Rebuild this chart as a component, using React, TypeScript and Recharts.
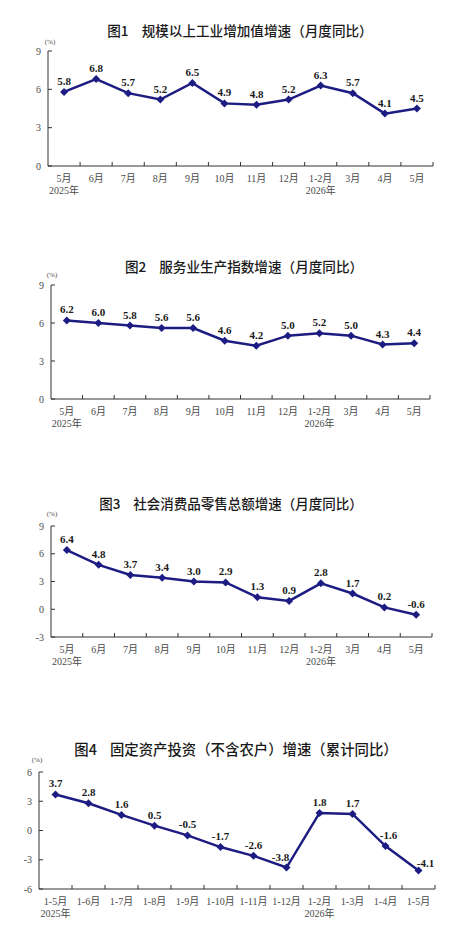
import { LineChart, Line, XAxis, YAxis, LabelList } from "recharts"

// categories
const monthCats = ["5月", "6月", "7月", "8月", "9月", "10月", "11月", "12月", "1-2月", "3月", "4月", "5月"]
const cumCats = ["1-5月", "1-6月", "1-7月", "1-8月", "1-9月", "1-10月", "1-11月", "1-12月", "1-2月", "1-3月", "1-4月", "1-5月"]
const yearTags = ["2025年", "", "", "", "", "", "", "", "2026年", "", "", ""]

// series values (%)
const industryValues = [5.8, 6.8, 5.7, 5.2, 6.5, 4.9, 4.8, 5.2, 6.3, 5.7, 4.1, 4.5]
const servicesValues = [6.2, 6.0, 5.8, 5.6, 5.6, 4.6, 4.2, 5.0, 5.2, 5.0, 4.3, 4.4]
const retailValues = [6.4, 4.8, 3.7, 3.4, 3.0, 2.9, 1.3, 0.9, 2.8, 1.7, 0.2, -0.6]
const investValues = [3.7, 2.8, 1.6, 0.5, -0.5, -1.7, -2.6, -3.8, 1.8, 1.7, -1.6, -4.1]

// y ticks
const ticksPos = [0, 3, 6, 9]
const ticksRetail = [-3, 0, 3, 6, 9]
const ticksInvest = [-6, -3, 0, 3, 6]

const LINE = "#1c1c82"
const AXIS = "#333"
const TICK_TEXT = "#4a4a4a"
const SERIF = '"Liberation Serif", "Noto Sans CJK SC", serif'
const CJK = '"Noto Sans CJK SC", sans-serif'

type PanelProps = {
  no: string
  title: string
  top: number
  height: number
  margin: { top: number; right: number; bottom: number; left: number }
  cats: string[]
  values: number[]
  ticks: number[]
  titleX: number
  titleY: number
  titleSize: number
  unitX: number
  unitY: number
  labelShift?: Record<number, [number, number]>
}

const Diamond = (props: any) => {
  const { cx, cy } = props
  if (cx == null || cy == null) return null
  const r = 4
  return <path d={`M${cx},${cy - r}L${cx + r},${cy}L${cx},${cy + r}L${cx - r},${cy}Z`} fill={LINE} />
}

const Panel = ({ no, title, top, height, margin, cats, values, ticks, titleX, titleY, titleSize, unitX, unitY, labelShift = {} }: PanelProps) => {
  const data = values.map((v, i) => ({ i, v }))
  const n = cats.length

  const xTick = (p: any) => {
    const { x, y, payload, width } = p
    const idx = payload.value
    const half = (width || 385) / n / 2
    return (
      <g>
        <line x1={x + half} y1={y} x2={x + half} y2={y - 4} stroke={AXIS} strokeWidth={1} />
        <text x={x} y={y} dy={15.5} textAnchor="middle" fontSize={10} fontFamily={SERIF} fill={TICK_TEXT}>
          {cats[idx]}
        </text>
        {yearTags[idx] && (
          <text x={x} y={y} dy={28} textAnchor="middle" fontSize={10} fontFamily={SERIF} fill={TICK_TEXT}>
            {yearTags[idx]}
          </text>
        )}
      </g>
    )
  }

  const yTick = (p: any) => {
    const { x, y, payload } = p
    return (
      <g>
        <line x1={x} y1={y} x2={x + 4} y2={y} stroke={AXIS} strokeWidth={1} />
        <text x={x - 7} y={y} dy={3.5} textAnchor="end" fontSize={10} fontFamily={SERIF} fill={TICK_TEXT}>
          {String(payload.value)}
        </text>
      </g>
    )
  }

  const valueLabel = (p: any) => {
    const { x, y, value, index } = p
    const [dx, dy] = labelShift[index] || [0, 0]
    return (
      <text x={x + dx} y={y - 7 + dy} textAnchor="middle" fontSize={11} fontWeight="bold" fontFamily={SERIF} fill="#1a1a1a">
        {value.toFixed(1)}
      </text>
    )
  }

  return (
    <div style={{ position: "absolute", left: 0, top, width: 465, height }}>
      <div
        style={{
          position: "absolute",
          left: titleX,
          top: titleY - titleSize / 2,
          transform: "translateX(-50%)",
          whiteSpace: "nowrap",
          fontFamily: CJK,
          fontWeight: 500,
          fontSize: titleSize,
          lineHeight: `${titleSize}px`,
          color: "#1a1a1a",
        }}
      >
        <span style={{ marginRight: 13 }}>{no}</span>
        {title}
      </div>
      <div
        style={{
          position: "absolute",
          left: unitX,
          top: unitY - 5,
          transform: "translateX(-50%)",
          fontFamily: SERIF,
          fontSize: 7,
          lineHeight: "10px",
          color: TICK_TEXT,
        }}
      >
        (%)
      </div>
      <LineChart width={465} height={height} data={data} margin={margin}>
        <XAxis
          dataKey="i"
          type="number"
          domain={[-0.5, n - 0.5]}
          ticks={data.map((d) => d.i)}
          interval={0}
          height={34}
          axisLine={{ stroke: AXIS, strokeWidth: 1 }}
          tickLine={false}
          tickSize={0}
          tickMargin={0}
          tick={xTick}
        />
        <YAxis
          type="number"
          domain={[ticks[0], ticks[ticks.length - 1]]}
          ticks={ticks}
          interval={0}
          allowDataOverflow
          width={30}
          axisLine={{ stroke: AXIS, strokeWidth: 1 }}
          tickLine={false}
          tickSize={0}
          tickMargin={0}
          tick={yTick}
        />
        <Line
          type="linear"
          dataKey="v"
          stroke={LINE}
          strokeWidth={2.5}
          dot={<Diamond />}
          activeDot={false}
          isAnimationActive={false}
        >
          <LabelList dataKey="v" content={valueLabel} />
        </Line>
      </LineChart>
    </div>
  )
}

export default function App() {
  return (
    <div style={{ position: "absolute", left: 0, top: 0, width: 465, height: 945, background: "#fff", overflow: "hidden" }}>
      <Panel
        no="图1"
        title="规模以上工业增加值增速（月度同比）"
        top={0}
        height={200}
        margin={{ top: 51, right: 32, bottom: 0, left: 18 }}
        cats={monthCats}
        values={industryValues}
        ticks={ticksPos}
        titleX={240}
        titleY={31}
        titleSize={13.6}
        unitX={50}
        unitY={42}
      />
      <Panel
        no="图2"
        title="服务业生产指数增速（月度同比）"
        top={235}
        height={200}
        margin={{ top: 50, right: 35, bottom: 2, left: 21 }}
        cats={monthCats}
        values={servicesValues}
        ticks={ticksPos}
        titleX={244}
        titleY={32}
        titleSize={13.6}
        unitX={52}
        unitY={40}
      />
      <Panel
        no="图3"
        title="社会消费品零售总额增速（月度同比）"
        top={470}
        height={205}
        margin={{ top: 56, right: 33, bottom: 4, left: 21 }}
        cats={monthCats}
        values={retailValues}
        ticks={ticksRetail}
        titleX={231}
        titleY={34}
        titleSize={13.5}
        unitX={52}
        unitY={44}
      />
      <Panel
        no="图4"
        title="固定资产投资（不含农户）增速（累计同比）"
        top={715}
        height={230}
        margin={{ top: 57, right: 30, bottom: 22, left: 9 }}
        cats={cumCats}
        values={investValues}
        ticks={ticksInvest}
        titleX={236}
        titleY={34}
        titleSize={14.4}
        unitX={37}
        unitY={45}
        labelShift={{ 7: [-6, 0], 10: [3, 0], 11: [7, 4] }}
      />
    </div>
  )
}
